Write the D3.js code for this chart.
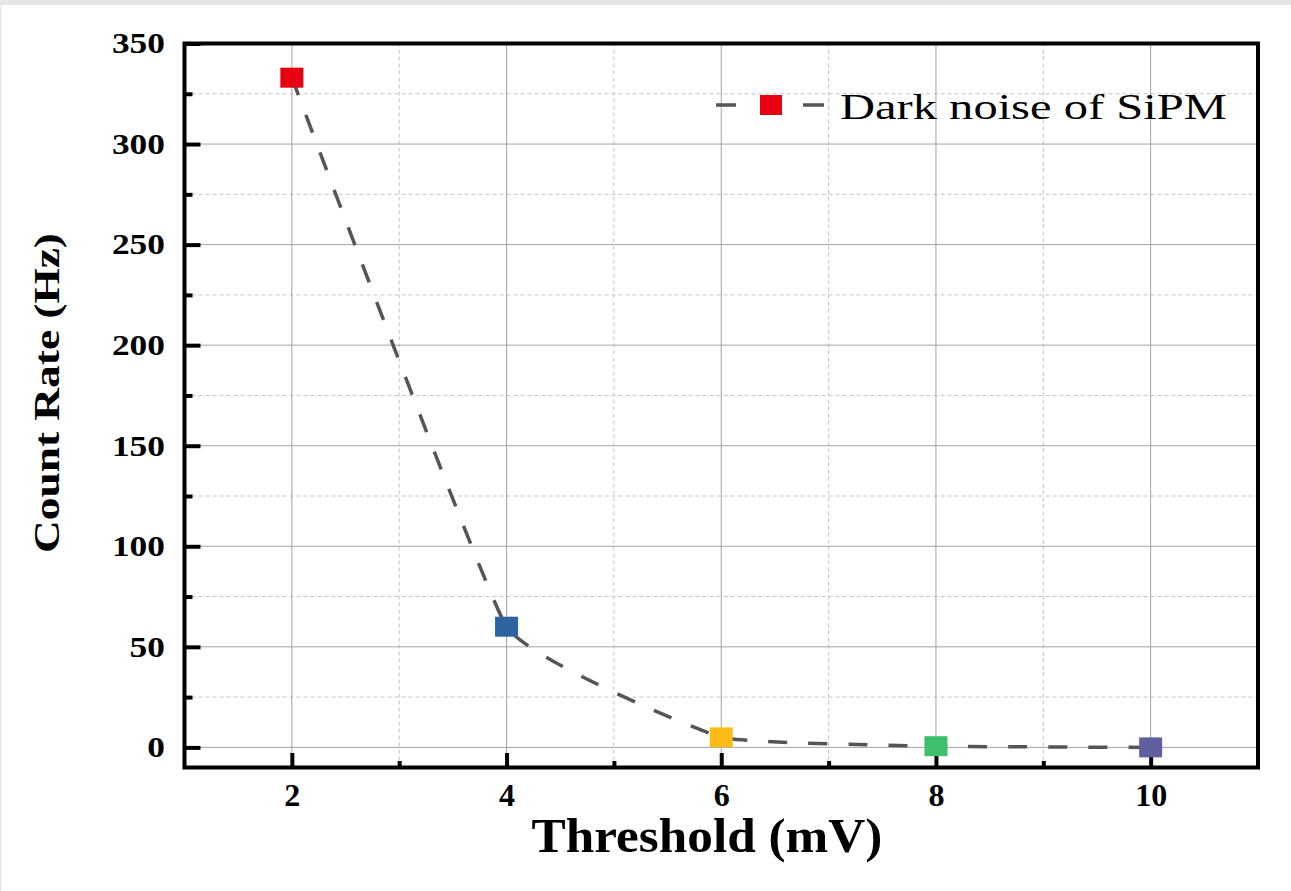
<!DOCTYPE html>
<html>
  <head>
    <meta charset="utf-8" />
    <title>Dark noise of SiPM</title>
    <script src="https://d3js.org/d3.v7.min.js"></script>
    <style>

      body {
        margin: 0;
        background: #ffffff;
      }

      svg {
        display: block;
      }

      text {
        font-family: "Liberation Serif", "Times New Roman", serif;
        fill: #000000;
      }

    </style>
  </head>
  <body>

    <svg id="chart"></svg>

    <script>

      var thresholds = [2, 4, 6, 8, 10];
      var countRates = [333, 60, 5, 0.6, 0];
      var markerColors = ["#e60012", "#2e65a0", "#fcbb17", "#3dbf6c", "#60609e"];

      var xTicks = [2, 4, 6, 8, 10];
      var xMinorTicks = [3, 5, 7, 9];
      var yTicks = [0, 50, 100, 150, 200, 250, 300, 350];
      var yMinorTicks = [25, 75, 125, 175, 225, 275, 325];

      var seriesName = "Dark noise of SiPM";
      var xTitle = "Threshold (mV)";
      var yTitle = "Count Rate (Hz)";

      var width = 1291;
      var height = 891;
      var margin = {
        top: 43.5,
        right: 33,
        bottom: 123.5,
        left: 184.5
      };

      var data = thresholds.map(function(t, i) {
        return { x: t, y: countRates[i], color: markerColors[i] };
      });

      var svg = d3.select("#chart")
        .attr("width", width)
        .attr("height", height);

      // grey strip along the top / left edge of the screenshot
      svg.append("rect")
        .attr("width", width).attr("height", 5)
        .attr("fill", "#e6e6e6");
      svg.append("rect")
        .attr("width", 1.5).attr("height", height)
        .attr("fill", "#e6e6e6");

      var x = d3.scaleLinear()
        .domain([1, 11])
        .range([margin.left, width - margin.right]);

      var y = d3.scaleLinear()
        .domain([-10, 350])
        .range([height - margin.bottom, margin.top]);

      // grid
      var grid = svg.append("g");

      grid.selectAll(".vminor")
        .data(xMinorTicks)
        .enter().append("line")
        .attr("x1", function(d) { return x(d); })
        .attr("x2", function(d) { return x(d); })
        .attr("y1", y.range()[0])
        .attr("y2", y.range()[1])
        .attr("stroke", "#c4c4c4")
        .attr("stroke-dasharray", "4,3");

      grid.selectAll(".hminor")
        .data(yMinorTicks)
        .enter().append("line")
        .attr("x1", x.range()[0])
        .attr("x2", x.range()[1])
        .attr("y1", function(d) { return y(d); })
        .attr("y2", function(d) { return y(d); })
        .attr("stroke", "#c4c4c4")
        .attr("stroke-dasharray", "4,3");

      grid.selectAll(".vmajor")
        .data(xTicks)
        .enter().append("line")
        .attr("x1", function(d) { return x(d); })
        .attr("x2", function(d) { return x(d); })
        .attr("y1", y.range()[0])
        .attr("y2", y.range()[1])
        .attr("stroke", "#a3a3a3");

      grid.selectAll(".hmajor")
        .data(yTicks)
        .enter().append("line")
        .attr("x1", x.range()[0])
        .attr("x2", x.range()[1])
        .attr("y1", function(d) { return y(d); })
        .attr("y2", function(d) { return y(d); })
        .attr("stroke", "#a3a3a3");

      // axes (ticks point inward)
      var bottom = y.range()[0];

      svg.append("g")
        .attr("transform", "translate(0," + bottom + ")")
        .call(d3.axisBottom(x).tickValues(xMinorTicks).tickSize(-6.5).tickFormat(""))
        .call(styleAxis, 32);

      svg.append("g")
        .attr("transform", "translate(0," + bottom + ")")
        .call(d3.axisBottom(x).tickValues(xTicks).tickSize(-14.5).tickPadding(16).tickFormat(d3.format("d")))
        .call(styleAxis, 32);

      svg.append("g")
        .attr("transform", "translate(" + margin.left + ",0)")
        .call(d3.axisLeft(y).tickValues(yMinorTicks).tickSize(-8).tickFormat(""))
        .call(styleAxis, 29);

      var yAxis = svg.append("g")
        .attr("transform", "translate(" + margin.left + ",0)")
        .call(d3.axisLeft(y).tickValues(yTicks).tickSize(-16).tickPadding(16).tickFormat(d3.format("d")))
        .call(styleAxis, 29);

      // the y labels are drawn wider than normal in the original
      yAxis.selectAll("text")
        .attr("transform", "scale(1.22,1)");

      function styleAxis(g, size) {
        g.select(".domain").remove();
        g.selectAll(".tick line")
          .attr("stroke", "#000")
          .attr("stroke-width", 4);
        g.selectAll(".tick text")
          .style("font-family", "'Liberation Serif', serif")
          .style("font-weight", "bold")
          .style("font-size", size + "px")
          .attr("fill", "#000");
      }

      // frame
      svg.append("rect")
        .attr("x", x.range()[0])
        .attr("y", y.range()[1])
        .attr("width", x.range()[1] - x.range()[0])
        .attr("height", y.range()[0] - y.range()[1])
        .attr("fill", "none")
        .attr("stroke", "#000")
        .attr("stroke-width", 4);

      // dashed spline
      var line = d3.line()
        .x(function(d) { return x(d.x); })
        .y(function(d) { return y(d.y); })
        .curve(d3.curveCardinal.tension(0.7));

      svg.append("path")
        .datum(data)
        .attr("d", line)
        .attr("fill", "none")
        .attr("stroke", "#555555")
        .attr("stroke-width", 3.5)
        .attr("stroke-dasharray", "19,21");

      // markers
      var mw = 23;
      var mh = 20;

      svg.selectAll(".marker")
        .data(data)
        .enter().append("rect")
        .attr("class", "marker")
        .attr("x", function(d) { return x(d.x) - mw / 2; })
        .attr("y", function(d) { return y(d.y) - mh / 2; })
        .attr("width", mw)
        .attr("height", mh)
        .attr("fill", function(d) { return d.color; });

      // stretch a text along its baseline until it is `target` px long
      function stretchTo(sel, target, base) {
        var len = sel.node().getComputedTextLength();
        sel.attr("transform", base + " scale(" + (target / len) + ",1)");
      }

      // legend
      var legend = svg.append("g");
      var ly = 105;

      legend.append("line")
        .attr("x1", 716).attr("x2", 736)
        .attr("y1", ly).attr("y2", ly)
        .attr("stroke", "#555555").attr("stroke-width", 3.5);
      legend.append("line")
        .attr("x1", 803).attr("x2", 824)
        .attr("y1", ly).attr("y2", ly)
        .attr("stroke", "#555555").attr("stroke-width", 3.5);
      legend.append("rect")
        .attr("x", 771 - 11).attr("y", ly - 10)
        .attr("width", 22).attr("height", 20)
        .attr("fill", markerColors[0]);
      legend.append("text")
        .style("font-size", "35px")
        .text(seriesName)
        .call(stretchTo, 387, "translate(840,119)");

      // axis titles
      svg.append("text")
        .attr("text-anchor", "middle")
        .style("font-size", "48px")
        .style("font-weight", "bold")
        .text(xTitle)
        .call(stretchTo, 351, "translate(707,852)");

      svg.append("text")
        .attr("text-anchor", "middle")
        .style("font-size", "35px")
        .style("font-weight", "bold")
        .text(yTitle)
        .call(stretchTo, 320, "translate(59,393) rotate(-90)");

    </script>
  </body>
</html>
